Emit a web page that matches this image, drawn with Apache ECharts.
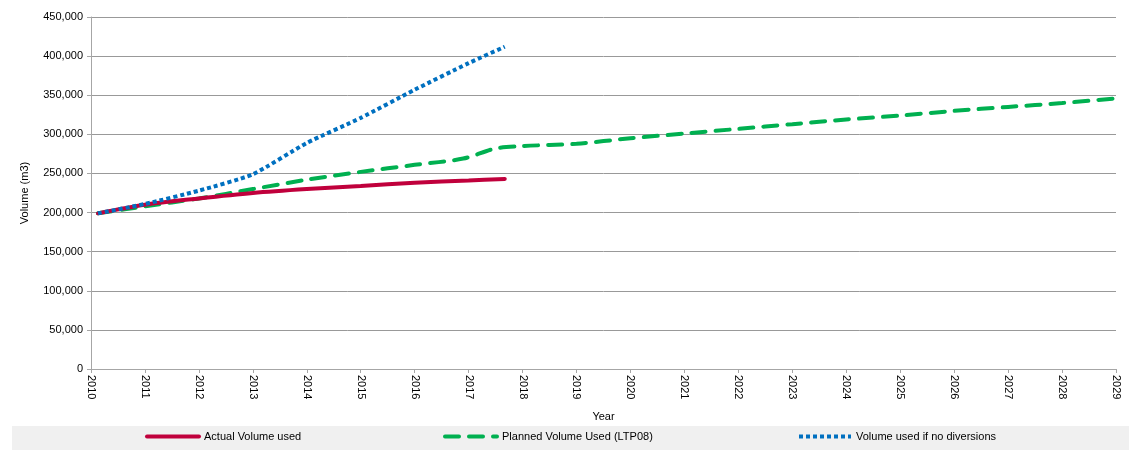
<!DOCTYPE html>
<html><head><meta charset="utf-8">
<script src="https://cdn.jsdelivr.net/npm/echarts@6/dist/echarts.min.js"></script>
<style>html,body{margin:0;padding:0;background:#fff}#c{width:1129px;height:450px}</style>
</head><body><div id="c"></div>
<script>
const seriesNames = ['Actual Volume used', 'Planned Volume Used (LTP08)', 'Volume used if no diversions'];
const actualX = [2010.13, 2011, 2012, 2013, 2014, 2015, 2016, 2017, 2017.67];
const actualY = [199000, 210000, 218000, 225000, 230000, 234000, 238000, 241000, 243000];
const plannedX = [2010.13, 2011, 2012, 2013, 2014, 2015, 2016, 2016.9, 2017.5, 2018, 2019, 2020, 2021, 2022, 2023, 2024, 2025, 2026, 2027, 2028, 2029];
const plannedY = [199000, 208000, 218000, 230000, 242000, 252000, 261000, 269000, 282000, 285000, 288000, 295000, 301000, 307000, 313000, 319000, 324000, 330000, 335000, 340000, 346000];
const noDivX = [2010.13, 2011, 2012, 2013, 2014, 2015, 2016, 2017, 2017.67];
const noDivY = [199000, 211000, 228000, 249000, 289000, 321000, 357000, 391000, 412000];
const yearTicks = [2010, 2029, 1];
const volTicks = [0, 450000, 50000];

const zip = (a, b) => a.map((x, i) => [x, b[i]]);
const font = 'Liberation Sans, Arial, sans-serif';
const chart = echarts.init(document.getElementById('c'), null, {renderer: 'canvas'});
const legendBase = {top: 431, itemWidth: 52, itemHeight: 14, itemGap: 6,
  itemStyle: {opacity: 0}, lineStyle: {width: 4},
  textStyle: {fontFamily: font, fontSize: 11, color: '#000'}, padding: 0};
chart.setOption({
  animation: false,
  graphic: [{type: 'rect', shape: {x: 12, y: 426, width: 1117, height: 24}, style: {fill: '#f0f0f0'}, z: -1}],
  grid: {left: 91, right: 13, top: 17, bottom: 81},
  legend: [
    Object.assign({}, legendBase, {left: 145, data: [seriesNames[0]]}),
    Object.assign({}, legendBase, {left: 443, data: [seriesNames[1]]}),
    Object.assign({}, legendBase, {left: 797, data: [seriesNames[2]]})
  ],
  xAxis: {
    type: 'value', min: yearTicks[0], max: yearTicks[1], interval: yearTicks[2],
    name: 'Year', nameLocation: 'middle', nameGap: 42,
    nameTextStyle: {fontFamily: font, fontSize: 11, color: '#000'},
    axisLine: {show: true, lineStyle: {color: '#a6a6a6', width: 1}},
    axisTick: {show: true, length: 4, lineStyle: {color: '#a6a6a6'}},
    axisLabel: {rotate: -90, fontFamily: font, fontSize: 11, color: '#000', margin: 6, formatter: v => String(v)},
    splitLine: {show: false}
  },
  yAxis: {
    type: 'value', min: volTicks[0], max: volTicks[1], interval: volTicks[2],
    name: 'Volume (m3)', nameLocation: 'middle', nameGap: 61, nameRotate: 90,
    nameTextStyle: {fontFamily: font, fontSize: 11, color: '#000'},
    axisLine: {show: true, lineStyle: {color: '#a6a6a6', width: 1}},
    axisTick: {show: true, length: 4, lineStyle: {color: '#a6a6a6'}},
    axisLabel: {fontFamily: font, fontSize: 11, color: '#000', margin: 8,
      formatter: v => v.toLocaleString('en-US')},
    splitLine: {show: true, lineStyle: {color: '#999999', width: 1}}
  },
  series: [
    {name: seriesNames[0], type: 'line', data: zip(actualX, actualY), symbol: 'none', smooth: 0.3,
     color: '#c0003c', lineStyle: {color: '#c0003c', width: 4, cap: 'round'}, z: 3},
    {name: seriesNames[1], type: 'line', data: zip(plannedX, plannedY), symbol: 'none', smooth: 0.3,
     color: '#00b050', lineStyle: {color: '#00b050', width: 4, type: [14, 10], cap: 'round'}, z: 2},
    {name: seriesNames[2], type: 'line', data: zip(noDivX, noDivY), symbol: 'none', smooth: 0.2,
     color: '#0070c0', lineStyle: {color: '#0070c0', width: 4, type: [4, 3]}, z: 4}
  ]
});
</script></body></html>
